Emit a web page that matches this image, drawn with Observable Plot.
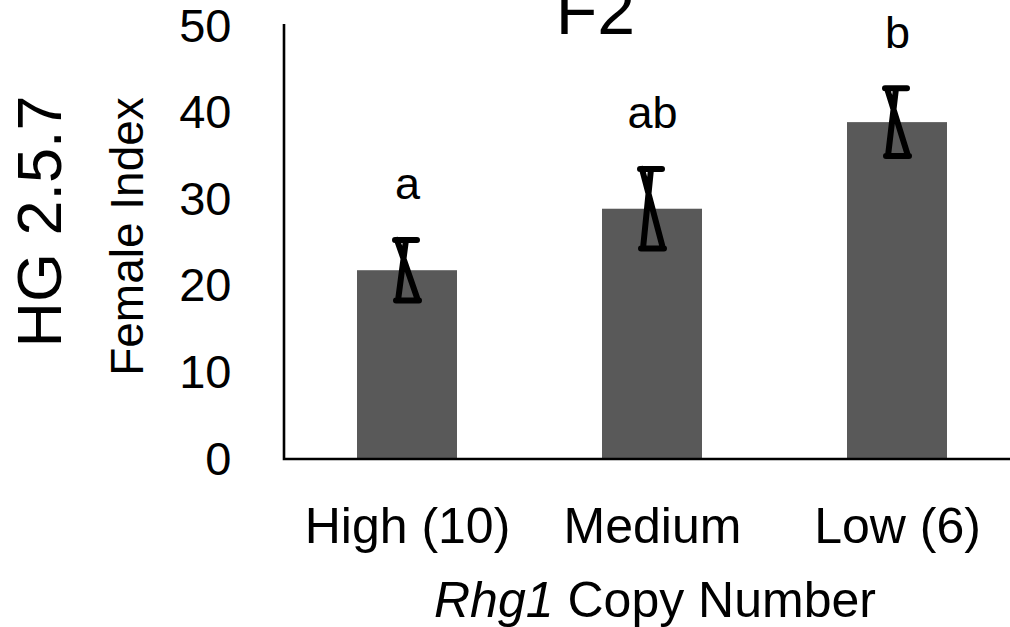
<!DOCTYPE html>
<html><head><meta charset="utf-8">
<script src="https://cdn.jsdelivr.net/npm/d3@7"></script>
<script src="https://cdn.jsdelivr.net/npm/@observablehq/plot@0.6"></script>
<style>body{margin:0;background:#fff} svg{display:block}</style>
</head><body><div id="chart"></div>
<script>
const categories = ["High (10)", "Medium", "Low (6)"];
const means = [21.8, 28.9, 38.9];
const errors = [3.5, 4.6, 3.9];
const groupLetters = ["a", "ab", "b"];
const yTicks = [0, 10, 20, 30, 40, 50];
const yDomain = [0, 50];
const title = "F2";
const yTitleOuter = "HG 2.5.7";
const yTitleInner = "Female Index";
const xTitleItalic = "Rhg1";
const xTitleRest = "Copy Number";

const data = categories.map((c, i) => ({
  cat: c, mean: means[i], err: errors[i],
  lo: means[i] - errors[i], hi: means[i] + errors[i], letter: groupLetters[i]
}));

const font = "'Liberation Sans', Arial, Helvetica, sans-serif";

function hourglass(index, scales, values, dims) {
  const g = d3.create("svg:g")
    .attr("fill", "none").attr("stroke", "black").attr("stroke-width", 6)
    .attr("stroke-linecap", "round").attr("stroke-linejoin", "round");
  const bw = scales.x.bandwidth ? scales.x.bandwidth() : 0;
  for (const d of data) {
    const c = scales.x(d.cat) + bw / 2;
    const yh = scales.y(d.hi), yl = scales.y(d.lo);
    g.append("path").attr("d",
      `M${c-12},${yh}H${c+10}M${c-11},${yl}H${c+12}M${c-10},${yh}L${c+11},${yl}M${c-1},${yh}L${c-9},${yl}`);
  }
  return g.node();
}

function axisLines(index, scales, values, dims) {
  const {marginLeft, width} = dims;
  const y0 = scales.y(yDomain[0]), y1 = scales.y(yDomain[1]);
  return d3.create("svg:path")
    .attr("d", `M${marginLeft},${y1 - 2}V${y0}H${width}`)
    .attr("fill", "none").attr("stroke", "black").attr("stroke-width", 2.6)
    .node();
}

const chart = Plot.plot({
  width: 1010, height: 627,
  marginLeft: 284, marginRight: -10, marginTop: 26, marginBottom: 168,
  style: {fontFamily: font, background: "white", overflow: "hidden"},
  x: {domain: categories, paddingInner: 0.593, paddingOuter: 0.2965, label: null},
  y: {domain: yDomain, label: null},
  marks: [
    Plot.barY(data, {x: "cat", y: "mean", fill: "#595959"}),
    Plot.axisY({ticks: yTicks, tickSize: 0, tickPadding: 53, fontSize: 47, label: null}),
    Plot.axisX({tickSize: 0, tickPadding: 48, fontSize: 50, label: null}),
    axisLines,
    hourglass,
    Plot.text(data, {x: "cat", y: "hi", text: "letter", dy: -41, lineAnchor: "bottom", fontSize: 45}),
    Plot.text([title], {text: d => d, frameAnchor: "top", textAnchor: "middle", dx: -57, dy: 7, lineAnchor: "bottom", fontSize: 68}),
    Plot.text([yTitleOuter], {text: d => d, frameAnchor: "left", textAnchor: "middle", rotate: -90, dx: -244, dy: -21.5, lineAnchor: "middle", fontSize: 63}),
    Plot.text([yTitleInner], {text: d => d, frameAnchor: "left", textAnchor: "middle", rotate: -90, dx: -156, dy: -6.5, lineAnchor: "middle", fontSize: 46}),
    Plot.text([xTitleItalic], {text: d => d, frameAnchor: "bottom", textAnchor: "end", dx: -99, dy: 141, lineAnchor: "middle", fontSize: 50, fontStyle: "italic"}),
    Plot.text([xTitleRest], {text: d => d, frameAnchor: "bottom", textAnchor: "start", dx: -85, dy: 141, lineAnchor: "middle", fontSize: 50})
  ]
});
document.getElementById("chart").append(chart);
</script>
</body></html>
